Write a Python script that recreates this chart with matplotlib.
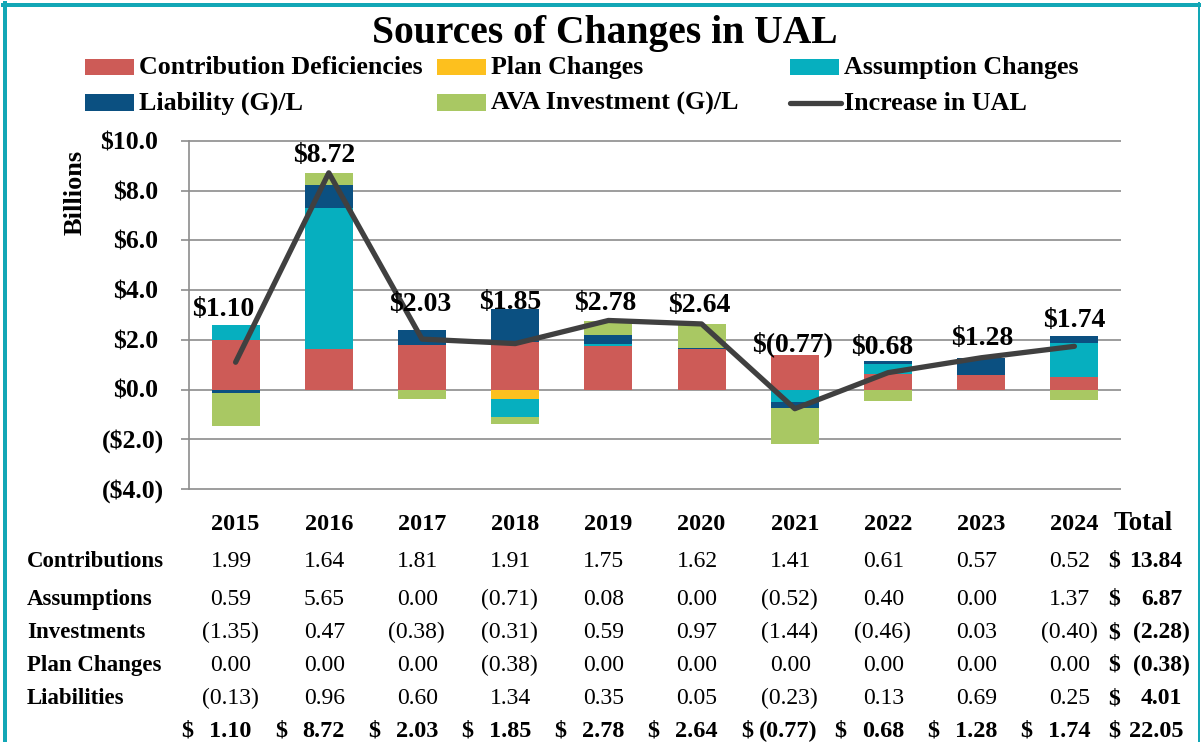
import matplotlib
matplotlib.use("Agg")
import matplotlib.pyplot as plt
from matplotlib.patches import Rectangle
from matplotlib.lines import Line2D
import matplotlib.transforms as mtransforms
import numpy as np

# ---------------- data ----------------
years = ["2015", "2016", "2017", "2018", "2019", "2020", "2021", "2022", "2023", "2024"]
contributions = [1.99, 1.64, 1.81, 1.91, 1.75, 1.62, 1.41, 0.61, 0.57, 0.52]
assumptions = [0.59, 5.65, 0.00, -0.71, 0.08, 0.00, -0.52, 0.40, 0.00, 1.37]
investments = [-1.35, 0.47, -0.38, -0.31, 0.59, 0.97, -1.44, -0.46, 0.03, -0.40]
plan_changes = [0.00, 0.00, 0.00, -0.38, 0.00, 0.00, 0.00, 0.00, 0.00, 0.00]
liabilities = [-0.13, 0.96, 0.60, 1.34, 0.35, 0.05, -0.23, 0.13, 0.69, 0.25]
ual_increase = [1.10, 8.72, 2.03, 1.85, 2.78, 2.64, -0.77, 0.68, 1.28, 1.74]
row_totals = [13.84, 6.87, -2.28, -0.38, 4.01]
grand_total = 22.05
row_names = ["Contributions", "Assumptions", "Investments", "Plan Changes", "Liabilities"]
y_ticks = [-4, -2, 0, 2, 4, 6, 8, 10]

# label offsets (pixels, dx, dy up) relative to line points -- layout only
label_offsets = [(-12, 46), (-5, 11), (-2, 28), (-5, 35), (-3, 10),
                 (-2, 12), (-2, 58), (-6, 19), (1, 13), (0, 19)]

RED = "#CD5B57"
ORANGE = "#FDC01E"
CYAN = "#06AFBF"
NAVY = "#0B5081"
GREEN = "#A9C863"
LINE = "#404040"
GRID = "#8C8C8C"
TEAL = "#12A7B6"

W, H = 1201, 742
plt.rcParams["font.family"] = ["Liberation Serif", "DejaVu Serif"]

fig = plt.figure(figsize=(W / 100, H / 100), dpi=100)
fig.patch.set_facecolor("white")

pad = 0.75
ax = fig.add_axes([189 / W, 1 - (489 + pad) / H, 932 / W, (348 + 2 * pad) / H])
ax.set_facecolor("none")

x = np.arange(len(years))
series = [
    (contributions, RED),
    (plan_changes, ORANGE),
    (assumptions, CYAN),
    (liabilities, NAVY),
    (investments, GREEN),
]
pos_base = np.zeros(len(years))
neg_base = np.zeros(len(years))
bw = 0.515
for vals, color in series:
    v = np.array(vals, dtype=float)
    pos = np.where(v > 0, v, 0.0)
    neg = np.where(v < 0, v, 0.0)
    ax.bar(x, pos, bw, bottom=pos_base, color=color, linewidth=0, zorder=2)
    ax.bar(x, neg, bw, bottom=neg_base, color=color, linewidth=0, zorder=2)
    pos_base += pos
    neg_base += neg

ax.plot(x, ual_increase, color=LINE, lw=3.8, solid_capstyle="round",
        solid_joinstyle="round", zorder=3)

ax.set_xlim(-0.5, 9.5)
unit = 348 / 14.0
ax.set_ylim(-4 - pad / unit, 10 + pad / unit)
ax.set_yticks(y_ticks)
ax.set_xticks([])
ax.yaxis.grid(True, color=GRID, lw=1.2)
ax.set_axisbelow(True)
for s in ["top", "right", "bottom"]:
    ax.spines[s].set_visible(False)
ax.spines["left"].set_color(GRID)
ax.spines["left"].set_linewidth(1.2)
ax.spines["left"].set_bounds(-4, 10)
ax.tick_params(axis="y", direction="out", length=5.8, width=1.2, color=GRID,
               labelleft=False)

# y tick labels (accounting style)
ytrans = mtransforms.offset_copy(ax.get_yaxis_transform(), fig=fig, x=0, y=-8.3, units="dots")
for v in y_ticks:
    if v >= 0:
        ax.text(-31 / 932, v, f"${v:.1f}", transform=ytrans, ha="right", va="baseline",
                fontsize=18.5, fontweight="bold")
    else:
        ax.text(-25 / 932, v, f"(${-v:.1f})", transform=ytrans, ha="right", va="baseline",
                fontsize=18.5, fontweight="bold")

fig.text(75 / W, 1 - 192 / H, "Billions", rotation=90, ha="center", va="center",
         fontsize=19, fontweight="bold")

# data labels
for i, v in enumerate(ual_increase):
    s = f"${v:.2f}" if v >= 0 else f"$({-v:.2f})"
    dx, dy = label_offsets[i]
    ax.annotate(s, xy=(i, v), xytext=(dx * 0.72, dy * 0.72), textcoords="offset points",
                ha="center", va="baseline", fontsize=20, fontweight="bold", zorder=4)

# title
fig.text(605 / W, 1 - 43 / H, "Sources of Changes in UAL", ha="center", va="baseline",
         fontsize=28.5, fontweight="bold")

# legend (manual)
legend_items = [
    ("Contribution Deficiencies", RED, 85, 67, 74, "patch"),
    ("Plan Changes", ORANGE, 437, 67, 74, "patch"),
    ("Assumption Changes", CYAN, 790, 67, 74, "patch"),
    ("Liability (G)/L", NAVY, 85, 102.5, 110, "patch"),
    ("AVA Investment (G)/L", GREEN, 437, 102.5, 110, "patch"),
    ("Increase in UAL", LINE, 790, 102.5, 110, "line"),
]
for label, color, px, pcy, base, kind in legend_items:
    if kind == "patch":
        fig.patches.append(Rectangle((px / W, 1 - (pcy + 8) / H), 49 / W, 16 / H,
                                     transform=fig.transFigure, facecolor=color,
                                     edgecolor="none"))
    else:
        fig.lines.append(Line2D([px / W, (px + 51) / W], [1 - pcy / H, 1 - pcy / H],
                                transform=fig.transFigure, color=color, lw=3.8,
                                solid_capstyle="round"))
    fig.text((px + 54) / W, 1 - base / H, label, ha="left", va="baseline",
             fontsize=18.7, fontweight="bold")

# table
def col_trans(dx):
    base = mtransforms.blended_transform_factory(ax.transData, fig.transFigure)
    return mtransforms.offset_copy(base, fig=fig, x=dx, y=0, units="dots")

header_base = 530
row_bases = [567, 605, 638, 671, 704]
total_base = 737
tfs = 16.5
nfs = 17

for i, yr in enumerate(years):
    fig.text(i, 1 - header_base / H, yr, transform=col_trans(0), ha="center",
             va="baseline", fontsize=17.5, fontweight="bold")
fig.text(1143 / W, 1 - header_base / H, "Total", ha="center", va="baseline",
         fontsize=19.5, fontweight="bold")

rows = [contributions, assumptions, investments, plan_changes, liabilities]
for r, (name, vals) in enumerate(zip(row_names, rows)):
    yb = 1 - row_bases[r] / H
    fig.text(27 / W, yb, name, ha="left", va="baseline", fontsize=tfs, fontweight="bold")
    for i, v in enumerate(vals):
        if v >= 0:
            fig.text(i, yb, f"{v:.2f}", transform=col_trans(16), ha="right",
                     va="baseline", fontsize=nfs)
        else:
            fig.text(i, yb, f"({-v:.2f})", transform=col_trans(23), ha="right",
                     va="baseline", fontsize=nfs)
    tv = row_totals[r]
    fig.text(1108 / W, yb, "$", ha="left", va="baseline", fontsize=nfs, fontweight="bold")
    if tv >= 0:
        fig.text(1182 / W, yb, f"{tv:.2f}", ha="right", va="baseline", fontsize=nfs,
                 fontweight="bold")
    else:
        fig.text(1190 / W, yb, f"({-tv:.2f})", ha="right", va="baseline", fontsize=nfs,
                 fontweight="bold")

yb = 1 - total_base / H
for i, v in enumerate(ual_increase):
    fig.text(i, yb, "$", transform=col_trans(-54), ha="left", va="baseline",
             fontsize=17.5, fontweight="bold")
    if v >= 0:
        fig.text(i, yb, f"{v:.2f}", transform=col_trans(16), ha="right",
                 va="baseline", fontsize=17.5, fontweight="bold")
    else:
        fig.text(i, yb, f"({-v:.2f})", transform=col_trans(23), ha="right",
                 va="baseline", fontsize=17.5, fontweight="bold")
fig.text(1108 / W, yb, "$", ha="left", va="baseline", fontsize=17.5, fontweight="bold")
fig.text(1184 / W, yb, f"{grand_total:.2f}", ha="right", va="baseline", fontsize=17.5,
         fontweight="bold")

# frame border
fig.lines.append(Line2D([5 / W, 5 / W], [0, 1 - 3 / H], transform=fig.transFigure,
                        color=TEAL, lw=4 * 0.72))
fig.lines.append(Line2D([3 / W, 1199 / W], [1 - 5 / H, 1 - 5 / H], transform=fig.transFigure,
                        color=TEAL, lw=4 * 0.72))
fig.lines.append(Line2D([1199 / W, 1199 / W], [0, 1 - 3 / H], transform=fig.transFigure,
                        color=TEAL, lw=2 * 0.72))

fig.savefig("out.png", dpi=100, facecolor="white")
